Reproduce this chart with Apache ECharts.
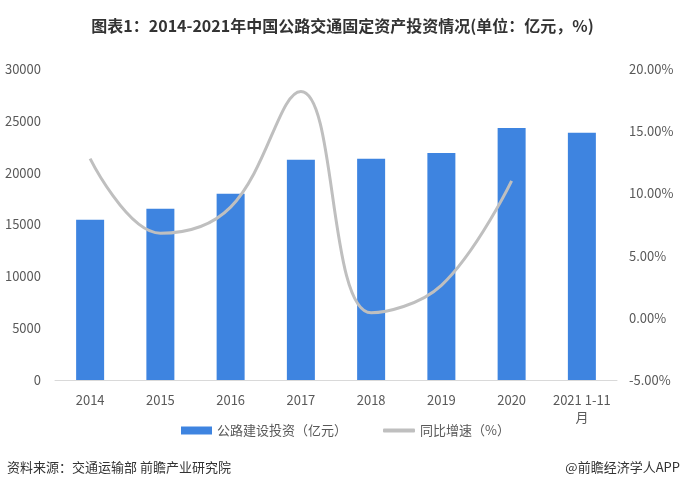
<!DOCTYPE html>
<html><head><meta charset="utf-8">
<script src="https://cdn.jsdelivr.net/npm/echarts@6/dist/echarts.min.js"></script>
<style>html,body{margin:0;padding:0;background:#fff}#c{width:685px;height:494px}</style>
</head><body><div id="c"></div>
<script>
var categories = ['2014','2015','2016','2017','2018','2019','2020','2021 1-11\n月'];
var investment = [15460, 16513, 17976, 21253, 21335, 21895, 24312, 23850];
var growth = [12.8, 6.8, 8.9, 18.2, 0.4, 2.6, 11.0, null];
var leftTicks = {min: 0, max: 30000, interval: 5000};
var rightTicks = {min: -5, max: 20, interval: 5};
var seriesNames = ['公路建设投资（亿元）', '同比增速（%）'];

var font = '"Noto Sans CJK SC", "Noto Sans", sans-serif';
var chart = echarts.init(document.getElementById('c'));
chart.setOption({
  backgroundColor: '#fff',
  animation: false,
  textStyle: {fontFamily: font},
  title: {
    text: '图表1：2014-2021年中国公路交通固定资产投资情况(单位：亿元，%)',
    left: 'center', top: 13,
    textStyle: {fontSize: 16, fontWeight: 'bold', color: '#333', fontFamily: font}
  },
  grid: {left: 55, right: 68, top: 69, bottom: 114},
  legend: [{
    data: [{name: seriesNames[0], icon: 'rect'}],
    left: 181, top: 424, padding: 0, itemWidth: 31, itemHeight: 8, itemGap: 3,
    textStyle: {fontSize: 13, color: '#595959', fontFamily: font}
  }, {
    data: [{name: seriesNames[1], icon: 'roundRect'}],
    left: 383, top: 424, padding: 0, itemWidth: 32, itemHeight: 4, itemGap: 3,
    textStyle: {fontSize: 13, color: '#595959', fontFamily: font}
  }],
  xAxis: {
    type: 'category', data: categories,
    axisLine: {lineStyle: {color: '#d9d9d9'}},
    axisTick: {show: false},
    axisLabel: {color: '#595959', fontSize: 13, margin: 12, lineHeight: 17, interval: 0}
  },
  yAxis: [{
    type: 'value', min: leftTicks.min, max: leftTicks.max, interval: leftTicks.interval,
    splitLine: {show: false}, axisLine: {show: false}, axisTick: {show: false},
    axisLabel: {color: '#595959', fontSize: 13, margin: 14,
      formatter: function (v) { return String(v); }}
  }, {
    type: 'value', min: rightTicks.min, max: rightTicks.max, interval: rightTicks.interval,
    splitLine: {show: false}, axisLine: {show: false}, axisTick: {show: false},
    axisLabel: {color: '#595959', fontSize: 13, margin: 12,
      formatter: function (v) { return v.toFixed(2) + '%'; }}
  }],
  series: [{
    name: seriesNames[0], type: 'bar', data: investment, barWidth: 28,
    itemStyle: {color: '#3e84e0'}
  }, {
    name: seriesNames[1], type: 'line', yAxisIndex: 1, data: growth,
    smooth: 0.4, showSymbol: false, symbol: 'none',
    lineStyle: {color: '#bfbfbf', width: 3},
    itemStyle: {color: '#bfbfbf'}
  }],
  graphic: [{
    type: 'text', left: 7, top: 461,
    style: {text: '资料来源：交通运输部 前瞻产业研究院', fontSize: 13, fill: '#333', fontFamily: font}
  }, {
    type: 'text', right: 5, top: 461,
    style: {text: '@前瞻经济学人APP', fontSize: 13, fill: '#333', fontFamily: font}
  }]
});
</script></body></html>
